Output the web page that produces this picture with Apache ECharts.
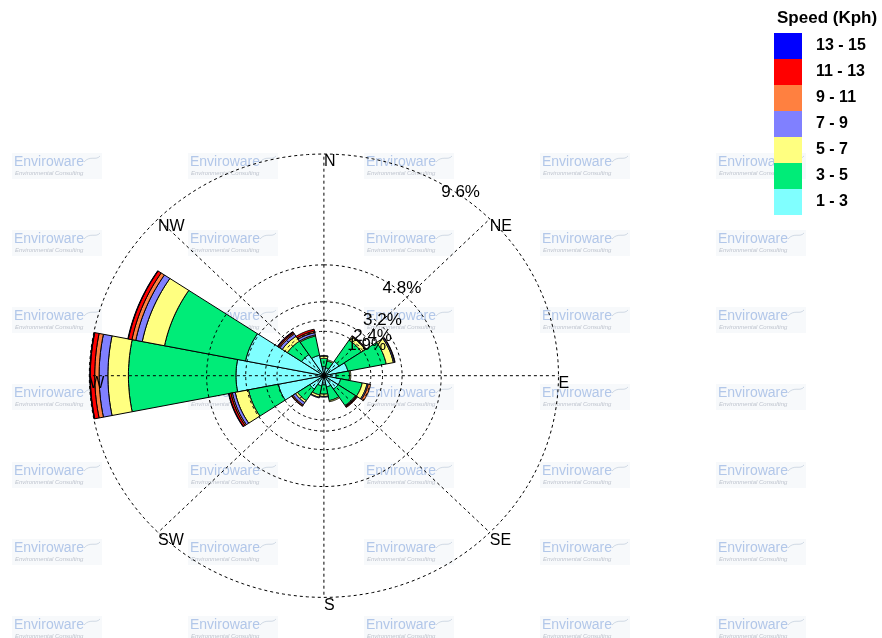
<!DOCTYPE html>
<html>
<head>
<meta charset="utf-8">
<script src="https://cdn.jsdelivr.net/npm/echarts@6/dist/echarts.min.js"></script>
<style>
  html, body { margin: 0; padding: 0; background: #ffffff; }
  #chart { width: 882px; height: 638px; }
</style>
</head>
<body>
<div id="chart"></div>
<script>
// Wind directions, clockwise from north
const directions = ['N', 'NNE', 'NE', 'ENE', 'E', 'ESE', 'SE', 'SSE',
                    'S', 'SSW', 'SW', 'WSW', 'W', 'WNW', 'NW', 'NNW'];

// Speed classes (Kph), lowest first
const speedBins = ['1 - 3', '3 - 5', '5 - 7', '7 - 9', '9 - 11', '11 - 13', '13 - 15'];
const binColors = ['#80FFFF', '#00EC78', '#FFFF80', '#8080FF', '#FF8040', '#FF0000', '#0000FF'];

// Frequency (%) of each speed class per direction
const freq1to3   = [0.40, 0.35, 0.75, 1.00, 0.50, 0.70, 0.70, 0.50, 0.40, 0.45, 0.70, 1.90, 3.60, 3.27, 1.10, 0.90];
const freq3to5   = [0.35, 0.30, 1.10, 1.60, 0.55, 0.90, 0.85, 0.60, 0.40, 0.40, 0.60, 1.25, 4.40, 3.38, 0.70, 0.85];
const freq5to7   = [0.10, 0.05, 0.18, 0.30, 0.05, 0.20, 0.03, 0.05, 0.10, 0.10, 0.10, 0.55, 0.84, 0.93, 0.25, 0.05];
const freq7to9   = [0.02, 0.00, 0.03, 0.05, 0.00, 0.05, 0.02, 0.00, 0.03, 0.03, 0.12, 0.12, 0.36, 0.27, 0.12, 0.10];
const freq9to11  = [0.00, 0.00, 0.02, 0.02, 0.00, 0.10, 0.02, 0.00, 0.00, 0.00, 0.05, 0.06, 0.18, 0.16, 0.05, 0.07];
const freq11to13 = [0.00, 0.00, 0.00, 0.00, 0.00, 0.00, 0.03, 0.00, 0.00, 0.00, 0.02, 0.08, 0.18, 0.15, 0.05, 0.08];
const freq13to15 = [0.00, 0.00, 0.00, 0.00, 0.00, 0.00, 0.00, 0.00, 0.00, 0.00, 0.00, 0.02, 0.02, 0.02, 0.02, 0.00];
const binFreqs = [freq1to3, freq3to5, freq5to7, freq7to9, freq9to11, freq11to13, freq13to15];

// Radial rings (%) and their labels
const ringValues = [1.92, 2.4, 3.2, 4.8, 9.6];
const ringLabels = ['1.9%', '2.4%', '3.2%', '4.8%', '9.6%'];
const ringLabelBearing = 30;

// Compass spokes, every 45 degrees
const compassLabels = ['N', 'NE', 'E', 'SE', 'S', 'SW', 'W', 'NW'];

const maxRadius = 9.6;
const sectorHalfWidth = 11.25;

// bearing (deg clockwise from north) + radius -> data-space x/y
function toXY(r, bearing) {
  const a = bearing * Math.PI / 180;
  return [r * Math.sin(a), r * Math.cos(a)];
}

function renderSector(params, api) {
  const dir = api.value(0), r0 = api.value(1), r1 = api.value(2);
  if (!(r1 - r0 > 0)) return null;
  const c = dir * 360 / directions.length;
  const steps = 18;
  const pts = [];
  for (let i = 0; i <= steps; i++) {
    pts.push(api.coord(toXY(r1, c - sectorHalfWidth + 2 * sectorHalfWidth * i / steps)));
  }
  if (r0 <= 0) {
    pts.push(api.coord([0, 0]));
  } else {
    for (let i = steps; i >= 0; i--) {
      pts.push(api.coord(toXY(r0, c - sectorHalfWidth + 2 * sectorHalfWidth * i / steps)));
    }
  }
  return {
    type: 'polygon',
    shape: { points: pts },
    style: { fill: api.visual('color'), stroke: '#000', lineWidth: 1 }
  };
}

function renderRing(params, api) {
  const r = api.value(0);
  const idx = api.value(1);
  const pts = [];
  for (let b = 0; b <= 360; b += 2) pts.push(api.coord(toXY(r, b)));
  const lp = api.coord(toXY(r, ringLabelBearing));
  return {
    type: 'group',
    children: [
      { type: 'polyline', shape: { points: pts },
        style: { stroke: '#000', lineWidth: 1, lineDash: [3, 3], fill: null } },
      { type: 'text', x: lp[0], y: lp[1],
        style: { text: ringLabels[idx], fill: '#000', fontSize: 17,
                 fontFamily: '"Liberation Sans", Arial, sans-serif',
                 align: 'left', verticalAlign: 'top' } }
    ]
  };
}

function renderSpoke(params, api) {
  const b = api.value(0);
  const idx = api.value(1);
  const c = api.coord([0, 0]);
  const p = api.coord(toXY(maxRadius, b));
  return {
    type: 'group',
    children: [
      { type: 'line', shape: { x1: c[0], y1: c[1], x2: p[0], y2: p[1] },
        style: { stroke: '#000', lineWidth: 1, lineDash: [3, 3] } },
      { type: 'text', x: p[0], y: p[1],
        style: { text: compassLabels[idx], fill: '#000', fontSize: 16,
                 fontFamily: '"Liberation Sans", Arial, sans-serif',
                 align: 'left', verticalAlign: 'top' } }
    ]
  };
}

// Stacked sector data per speed class: [direction index, inner %, outer %]
const cumulative = directions.map(() => 0);
const sectorSeries = speedBins.map((name, k) => {
  const data = directions.map((d, i) => {
    const base = cumulative[i];
    cumulative[i] += binFreqs[k][i];
    return [i, base, cumulative[i]];
  });
  return {
    name: name,
    type: 'custom',
    renderItem: renderSector,
    itemStyle: { color: binColors[k] },
    data: data,
    z: 2,
    silent: true
  };
});

// Watermark tiles
const watermark = [];
const tileCols = [12, 188, 364, 540, 716];
const tileRows = [153, 230, 307, 384, 462, 539, 616];
tileRows.forEach(ty => tileCols.forEach(tx => {
  watermark.push({
    type: 'group', x: tx, y: ty, z: 50, silent: true,
    children: [
      { type: 'rect', shape: { x: 0, y: 0, width: 90, height: 26 },
        style: { fill: 'rgba(238,241,246,0.45)' } },
      { type: 'text', x: 2, y: 2,
        style: { text: 'Enviroware', fill: 'rgba(110,150,215,0.5)', fontSize: 14,
                 fontFamily: '"Liberation Sans", Arial, sans-serif' } },
      { type: 'text', x: 3, y: 17,
        style: { text: 'Environmental Consulting', fill: 'rgba(120,130,150,0.45)', fontSize: 6,
                 fontStyle: 'italic', fontFamily: '"Liberation Sans", Arial, sans-serif' } },
      { type: 'bezierCurve',
        shape: { x1: 72, y1: 9, x2: 88, y2: 3, cpx1: 78, cpy1: 2, cpx2: 84, cpy2: 8 },
        style: { stroke: 'rgba(170,185,205,0.5)', lineWidth: 1, fill: null } }
    ]
  });
}));

const chart = echarts.init(document.getElementById('chart'), null, { renderer: 'canvas' });
chart.setOption({
  animation: false,
  backgroundColor: '#ffffff',
  title: {
    text: 'Speed (Kph)',
    left: 772, top: 5,
    textStyle: { fontSize: 17, fontWeight: 'bold', color: '#000',
                 fontFamily: '"Liberation Sans", Arial, sans-serif' }
  },
  legend: {
    orient: 'vertical',
    left: 774, top: 33,
    padding: 0,
    itemWidth: 28, itemHeight: 26, itemGap: 0,
    icon: 'rect',
    selectedMode: false,
    data: speedBins.slice().reverse(),
    textStyle: { fontSize: 16, fontWeight: 'bold', color: '#000',
                 fontFamily: '"Liberation Sans", Arial, sans-serif',
                 padding: [0, 0, 0, 9] }
  },
  grid: { left: 89.3, top: 154, width: 469.2, height: 443.4 },
  xAxis: { type: 'value', min: -maxRadius, max: maxRadius, show: false },
  yAxis: { type: 'value', min: -maxRadius, max: maxRadius, show: false },
  graphic: watermark,
  series: sectorSeries.concat([
    { type: 'custom', name: 'rings', renderItem: renderRing, z: 5, silent: true,
      data: ringValues.map((v, i) => [v, i]) },
    { type: 'custom', name: 'spokes', renderItem: renderSpoke, z: 5, silent: true,
      data: compassLabels.map((l, i) => [i * 45, i]) }
  ])
});
</script>
</body>
</html>
